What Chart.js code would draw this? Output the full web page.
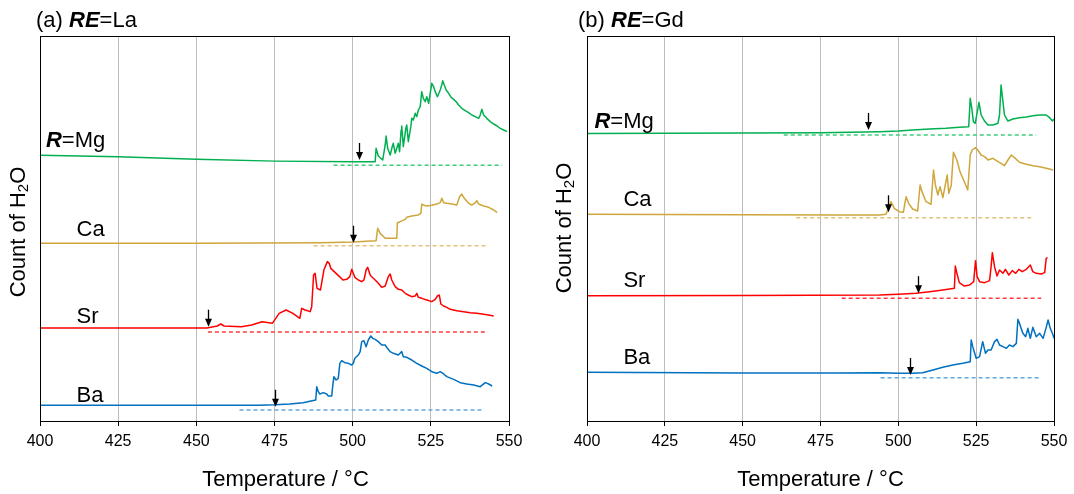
<!DOCTYPE html>
<html><head><meta charset="utf-8">
<script src="https://cdn.jsdelivr.net/npm/chart.js@4"></script>
<style>
html,body{margin:0;padding:0;background:#fff;}
#wrap{position:relative;width:1074px;height:494px;overflow:hidden;background:#fff;}
canvas{position:absolute;top:0;}
</style></head>
<body>
<div id="wrap">
<canvas id="chartLa" width="537" height="494" style="left:0"></canvas>
<canvas id="chartGd" width="537" height="494" style="left:537px"></canvas>
</div>
<script>
const FONT = '"Liberation Sans", Arial, Helvetica, sans-serif';
const tickTemps = [400, 425, 450, 475, 500, 525, 550];
const sampleNames = ['Mg', 'Ca', 'Sr', 'Ba'];

// ---------- (a) RE = La ----------
const laMgT = [400,425,450,475,500,507.2,507.5,508.2,509.6,510.4,510.7,511.2,512.0,512.6,513.0,513.6,514.1,514.6,515.0,515.5,515.7,516.2,517.0,517.3,517.8,518.6,518.9,519.4,520.0,520.5,521.0,521.6,522.1,522.6,523.2,523.7,524.3,524.8,525.3,525.9,526.4,527.1,528.0,528.5,528.8,529.3,529.9,530.7,531.5,532.3,533.1,533.9,534.9,536.0,537.1,538.1,539.2,540.3,540.8,541.3,541.9,542.9,544.0,545.1,546.2,547.2,548.3,549.4];
const laMgV = [69.0,68.65,67.97,67.5,67.35,67.36,70.82,68.83,67.79,71.69,74.03,70.82,69.09,71.08,72.12,69.52,70.82,72.12,69.96,75.58,76.62,71.25,76.02,76.88,72.55,76.45,78.61,78.18,79.91,79.05,80.78,81.65,85.54,83.81,82.94,84.24,82.51,85.11,87.71,86.84,85.54,84.24,85.97,87.27,88.40,87.27,85.97,85.11,84.07,83.55,82.94,82.08,81.21,80.61,80.09,79.48,79.05,78.61,79.48,80.95,79.48,78.61,77.75,77.14,76.62,76.02,75.58,75.15];

const laCaT = [400,450,490,500,507.5,508.0,508.8,510.4,514.1,514.3,515.2,516.8,517.3,518.9,521.0,521.8,522.1,522.6,523.7,525.3,526.9,528.0,528.5,529.1,530.1,531.7,533.3,534.2,534.9,535.7,537.1,538.1,539.2,539.7,540.3,541.9,543.5,545.1,546.2];
const laCaV = [46.15,46.15,46.3,46.49,46.84,50.04,48.74,47.45,47.45,51.51,51.77,52.38,52.9,53.25,53.51,53.94,56.36,56.1,55.84,56.02,56.36,56.71,57.84,56.71,56.54,56.36,56.1,58.27,58.96,57.84,56.54,56.1,56.71,57.23,56.36,55.84,55.5,54.81,54.11];

const laSrT = [400,453.4,456.7,457.8,458.9,464.4,467.7,471.0,474.3,475.4,476.5,478.7,480.9,483.1,483.7,484.8,486.4,486.9,487.5,488.0,488.6,489.7,490.8,491.9,492.5,493.0,494.1,495.8,496.9,498.1,499.1,499.7,500.7,501.8,502.9,503.6,504.3,504.8,505.6,506.1,507.2,508.2,509.3,510.4,511.4,512.0,512.5,513.6,514.6,515.7,516.8,517.8,518.9,520.0,520.5,521.0,522.1,523.7,525.3,526.4,527.1,527.7,528.2,529.1,530.1,531.2,533.3,535.5,537.6,539.7,541.9,543.5,545.1];
const laSrV = [24.16,24.16,24.68,25.19,24.68,24.50,24.94,25.80,25.37,26.67,27.97,28.83,27.97,26.67,29.26,28.83,28.40,29.70,37.92,38.36,34.46,34.03,39.22,41.39,40.95,39.65,38.79,37.49,36.62,36.80,37.49,39.39,37.32,36.62,36.19,36.62,39.22,39.91,37.92,37.49,36.62,35.76,34.72,35.06,37.49,38.18,36.62,34.89,34.20,34.03,33.16,32.73,32.29,32.47,33.16,32.12,31.86,31.43,31.0,31.6,32.47,32.73,30.39,29.87,29.52,29.0,28.66,28.4,28.14,27.97,27.71,27.53,27.27];

const laBaT = [400,470,475,479.9,484.2,486.3,488.2,488.5,489.0,489.5,490.6,491.7,492.2,493.3,493.6,494.0,494.7,495.4,495.9,496.5,497.5,498.6,499.7,500.2,500.7,501.8,502.4,502.9,503.6,504.3,505.0,505.8,506.4,507.2,508.2,509.3,510.4,511.1,512.0,513.0,514.6,515.7,516.2,517.3,518.9,520.5,522.1,523.7,525.3,526.9,528.0,529.1,530.1,532.3,534.4,536.5,538.7,540.8,542.4,543.5,544.6];
const laBaV = [4.07,4.07,4.2,4.42,4.76,5.11,5.45,8.92,7.62,7.01,7.36,7.01,6.49,6.49,8.92,11.52,10.65,11.08,14.98,15.67,15.15,14.98,14.55,14.98,16.28,17.14,18.01,20.61,20.87,19.31,21.04,22.08,21.47,21.21,20.61,19.74,19.74,18.87,18.01,17.58,17.14,18.01,16.71,16.54,15.84,14.98,14.29,13.68,12.81,12.38,12.81,12.21,11.52,10.82,9.96,9.61,9.35,8.92,9.96,9.61,9.09];

// baselines (Mg, Ca, Sr, Ba)
const laBaseStart = [493.9, 487.5, 453.7, 463.8];
const laBaseEnd   = [547.8, 543.5, 543.3, 542.1];
const laBaseLevel = [66.41, 45.54, 23.1, 2.86];
// onset arrows (Mg, Ca, Sr, Ba)
const laOnsetT = [502.1, 500.0, 453.8, 475.0];
const laOnsetV = [67.8, 46.3, 24.5, 3.7];

// ---------- (b) RE = Gd ----------
const gdMgT = [400,450,475,493.9,500,504.6,510.0,515.3,519.6,522.6,523.1,523.6,524.1,524.7,525.9,526.6,527.7,528.8,530.4,532.0,532.5,533.0,533.6,534.1,535.2,536.8,538.9,541.1,543.2,545.4,547.5,548.6,549.5,550];
const gdMgV = [74.7,74.8,74.9,75.15,75.32,75.58,75.84,76.02,76.28,76.45,83.81,81.21,77.75,77.32,82.77,79.48,77.92,76.88,76.88,77.32,79.48,87.27,82.94,79.48,77.92,78.44,78.79,78.96,79.31,79.48,79.48,78.79,77.92,78.44];

const gdCaT = [400,450,480,493.9,496.0,497.1,497.6,498.7,500.3,501.6,502.5,503.3,504.6,506.2,507.0,507.6,508.9,510.5,511.3,511.9,512.7,513.4,514.3,515.7,516.2,517.0,517.7,518.8,519.8,521.2,522.3,523.1,523.7,524.8,525.5,526.6,527.7,528.8,530.4,532.0,533.0,534.1,535.2,536.3,537.3,538.9,541.1,543.2,545.4,547.5,549.7];
const gdCaV = [53.68,53.6,53.5,53.51,53.68,55.67,56.97,55.24,54.37,54.20,58.27,56.54,55.06,54.55,61.30,59.57,56.97,56.28,65.19,61.30,58.70,60.87,58.01,63.90,59.13,61.30,69.78,67.79,64.76,62.16,60.0,69.09,70.39,70.99,70.39,69.09,68.66,67.79,68.23,67.36,66.93,66.32,67.79,69.09,68.40,67.19,66.67,66.32,66.06,65.63,65.19];

const gdSrT = [400,450,493.9,500,505.7,510.0,514.3,518.0,518.3,518.8,519.6,521.2,522.9,524.2,524.8,525.3,526.1,527.7,529.3,529.8,530.2,530.9,531.7,532.5,533.6,534.4,535.5,536.6,537.7,538.7,539.8,541.1,542.4,543.2,544.3,545.9,547.0,547.5,547.7];
const gdSrV = [32.55,32.6,32.73,32.90,33.16,33.59,34.03,34.46,40.26,38.36,35.93,35.06,35.32,36.19,41.64,37.49,36.19,35.93,36.45,40.09,43.72,40.09,37.66,39.22,38.36,39.39,37.92,39.05,38.36,39.39,38.79,39.39,40.52,38.79,38.36,38.18,38.53,42.25,42.51];

const gdBaT = [400,450,480,493.9,500,504.6,507.8,511.1,514.3,517.5,520.7,523.1,523.4,523.9,525.0,526.1,527.1,528.0,528.8,529.8,530.9,531.7,532.5,533.6,534.7,535.7,536.8,537.9,538.4,538.9,540.0,540.9,541.6,542.4,543.2,544.3,545.4,546.5,547.5,548.1,548.8,549.7,550];
const gdBaV = [12.64,12.5,12.45,12.55,12.38,12.38,12.55,13.25,13.94,14.55,14.98,15.41,21.04,19.31,16.28,16.71,20.61,17.58,18.44,18.44,20.61,21.21,19.74,19.31,18.87,19.74,19.31,20.17,26.41,25.37,22.77,21.90,24.07,21.47,24.33,21.90,22.77,21.47,24.33,26.23,24.07,22.34,21.47];

const gdBaseStart = [463.2, 467.2, 481.8, 494.3];
const gdBaseEnd   = [544.3, 543.5, 545.9, 545.9];
const gdBaseLevel = [74.29, 52.81, 31.86, 11.26];
const gdOnsetT = [490.2, 496.6, 506.2, 503.8];
const gdOnsetV = [75.6, 54.2, 33.2, 11.95];

// ---------- styles ----------
const lineColors = ['#00B050', '#CFA63C', '#FF0000', '#0070C0'];
const dashColors = ['#3FCB7D', '#E3C27C', '#FF3A3A', '#62A8E0'];

function pts(T, V) { return T.map((t, i) => ({x: t, y: V[i]})); }

function buildDatasets(traces, bStart, bEnd, bLevel) {
  const ds = [];
  traces.forEach((tr, i) => {
    ds.push({label: sampleNames[i] + ' baseline', data: [{x: bStart[i], y: bLevel[i]}, {x: bEnd[i], y: bLevel[i]}],
      borderColor: dashColors[i], borderWidth: 1.5, borderDash: [4, 3], pointRadius: 0, fill: false, tension: 0});
  });
  traces.forEach((tr, i) => {
    ds.push({label: sampleNames[i], data: pts(tr[0], tr[1]), borderColor: lineColors[i], borderWidth: 1.5,
      pointRadius: 0, fill: false, tension: 0, borderJoinStyle: 'round'});
  });
  return ds;
}

function drawRich(ctx, parts, x, y, size) {
  ctx.textBaseline = 'middle';
  ctx.textAlign = 'left';
  let cx = x;
  parts.forEach(p => {
    ctx.font = (p.s ? p.s + ' ' : '') + size + 'px ' + FONT;
    ctx.fillText(p.t, cx, y);
    cx += ctx.measureText(p.t).width;
  });
}

function makeDecor(cfg) {
  return {
    id: 'decor',
    afterDatasetsDraw(chart) {
      const {ctx, scales: {x, y}} = chart;
      ctx.save();
      ctx.strokeStyle = '#000';
      ctx.fillStyle = '#000';
      ctx.lineWidth = 1.3;
      cfg.onsetT.forEach((t, i) => {
        const px = Math.round(x.getPixelForValue(t)) + 0.5;
        const py = y.getPixelForValue(cfg.onsetV[i]);
        ctx.beginPath(); ctx.moveTo(px, py - 17); ctx.lineTo(px, py - 6); ctx.stroke();
        ctx.beginPath(); ctx.moveTo(px - 3.5, py - 8); ctx.lineTo(px + 3.5, py - 8); ctx.lineTo(px, py); ctx.closePath(); ctx.fill();
      });
      ctx.restore();
    },
    afterDraw(chart) {
      const {ctx, chartArea: a, scales: {x, y}} = chart;
      ctx.save();
      ctx.strokeStyle = '#000';
      ctx.lineWidth = 1;
      ctx.strokeRect(Math.round(a.left) + 0.5, Math.round(a.top) + 0.5, Math.round(a.right - a.left), Math.round(a.bottom - a.top));
      ctx.fillStyle = '#000';
      drawRich(ctx, cfg.title, cfg.titleX, 20.5, 22);
      cfg.labels.forEach(l => drawRich(ctx, l.parts, x.getPixelForValue(l.t), y.getPixelForValue(l.v), 22));
      ctx.font = '22px ' + FONT;
      ctx.textAlign = 'center';
      ctx.textBaseline = 'middle';
      ctx.fillText('Temperature / °C', (a.left + a.right) / 2 + cfg.xTitleDx, 480);
      ctx.translate(cfg.yTitleX, cfg.yTitleY);
      ctx.rotate(-Math.PI / 2);
      const segs = [{t: 'Count of H', size: 22, dy: 0}, {t: '2', size: 15, dy: 5}, {t: 'O', size: 22, dy: 0}];
      let total = 0;
      segs.forEach(s => { ctx.font = s.size + 'px ' + FONT; s.w = ctx.measureText(s.t).width; total += s.w; });
      let cx = -total / 2;
      ctx.textAlign = 'left';
      segs.forEach(s => { ctx.font = s.size + 'px ' + FONT; ctx.fillText(s.t, cx, s.dy); cx += s.w; });
      ctx.restore();
    }
  };
}

function makeChart(id, datasets, cfg) {
  return new Chart(document.getElementById(id), {
    type: 'line',
    data: {datasets},
    options: {
      responsive: false,
      animation: false,
      layout: {padding: {top: 36, left: cfg.padLeft, right: cfg.padRight, bottom: 0}},
      plugins: {legend: {display: false}, tooltip: {enabled: false}, title: {display: false}},
      scales: {
        x: {
          type: 'linear', min: 400, max: 550,
          afterBuildTicks: s => { s.ticks = tickTemps.map(v => ({value: v})); },
          ticks: {font: {family: FONT, size: 16}, color: '#000', padding: 6, maxRotation: 0, autoSkip: false},
          grid: {color: '#BDBDBD', lineWidth: 1, drawTicks: true, tickLength: 5, tickColor: '#000'},
          border: {display: true, color: '#000', width: 1},
          title: {display: false},
          afterFit: s => { s.height = 73; }
        },
        y: {min: 0, max: 100, display: false}
      }
    },
    plugins: [makeDecor(cfg)]
  });
}

makeChart('chartLa',
  buildDatasets([[laMgT, laMgV], [laCaT, laCaV], [laSrT, laSrV], [laBaT, laBaV]], laBaseStart, laBaseEnd, laBaseLevel),
  {
    padLeft: 40, padRight: 28,
    title: [{t: '(a) '}, {t: 'RE', s: 'bold italic'}, {t: '=La'}], titleX: 36,
    labels: [
      {parts: [{t: 'R', s: 'bold italic'}, {t: '=Mg'}], t: 401.9, v: 72.7},
      {parts: [{t: 'Ca'}], t: 411.7, v: 49.5},
      {parts: [{t: 'Sr'}], t: 411.7, v: 26.9},
      {parts: [{t: 'Ba'}], t: 411.7, v: 6.6}
    ],
    onsetT: laOnsetT, onsetV: laOnsetV,
    xTitleDx: 11, yTitleX: 19, yTitleY: 232
  });

makeChart('chartGd',
  buildDatasets([[gdMgT, gdMgV], [gdCaT, gdCaV], [gdSrT, gdSrV], [gdBaT, gdBaV]], gdBaseStart, gdBaseEnd, gdBaseLevel),
  {
    padLeft: 50, padRight: 20,
    title: [{t: '(b) '}, {t: 'RE', s: 'bold italic'}, {t: '=Gd'}], titleX: 41,
    labels: [
      {parts: [{t: 'R', s: 'bold italic'}, {t: '=Mg'}], t: 402.4, v: 77.7},
      {parts: [{t: 'Ca'}], t: 411.7, v: 57.3},
      {parts: [{t: 'Sr'}], t: 411.7, v: 36.3},
      {parts: [{t: 'Ba'}], t: 411.7, v: 16.5}
    ],
    onsetT: gdOnsetT, onsetV: gdOnsetV,
    xTitleDx: 0, yTitleX: 28, yTitleY: 228
  });
</script>
</body></html>
